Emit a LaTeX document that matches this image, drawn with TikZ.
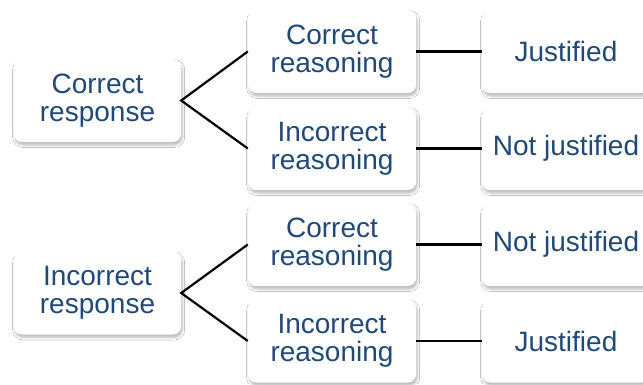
\documentclass[tikz,border=0pt]{standalone}
\usepackage{fontspec}
\setmainfont{Liberation Sans}
\usetikzlibrary{shadows.blur}
\definecolor{txtblue}{RGB}{31,73,125}
\tikzset{
  box/.style={fill=white, rounded corners=8pt, minimum width=168pt, minimum height=83pt,
    inner sep=0pt, align=center, text=txtblue,
    font=\fontsize{28}{28}\selectfont,
    blur shadow={shadow xshift=1.2pt, shadow yshift=-3pt, shadow blur radius=2.5pt, shadow opacity=28}},
  conn/.style={draw=black, line width=2.2pt}
}
\begin{document}
\begin{tikzpicture}[x=1pt,y=-1pt]
\clip (0,0) rectangle (643,384);
\fill[white] (0,0) rectangle (643,384);
\node[box, minimum width=167pt] (l1) at (97.5,100.5) {Correct\\response};
\node[box, minimum width=167pt] (l2) at (97.5,293) {Incorrect\\response};
\node[box] (m1) at (332,51.5) {Correct\\reasoning};
\node[box] (m2) at (332,148.5) {Incorrect\\reasoning};
\node[box] (m3) at (332,244.5) {Correct\\reasoning};
\node[box] (m4) at (332,341) {Incorrect\\reasoning};
\node[box] (r1) at (566,51.5) {Justified};
\node[box] (r2) at (566,148.5) {Not justified};
\node[box] (r3) at (566,244.5) {Not justified};
\node[box] (r4) at (566,341) {Justified};
\draw[conn] (m1.west) -- (l1.east) -- (m2.west);
\draw[conn] (m3.west) -- (l2.east) -- (m4.west);
\draw[conn] (m1) -- (r1);
\draw[conn] (m2) -- (r2);
\draw[conn] (m3) -- (r3);
\draw[conn] (m4) -- (r4);
\end{tikzpicture}
\end{document}
